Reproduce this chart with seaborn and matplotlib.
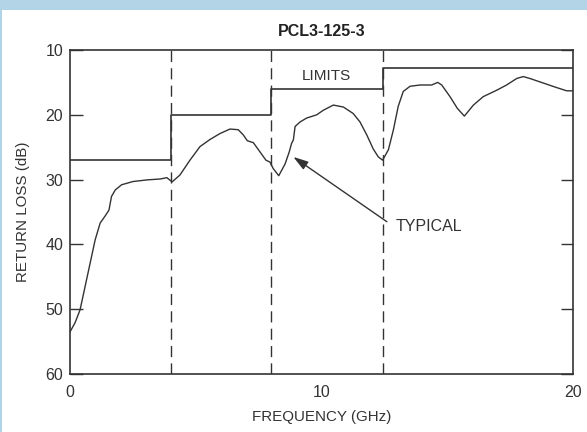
import matplotlib
matplotlib.use("Agg")
import matplotlib.pyplot as plt
from matplotlib.patches import Rectangle
import numpy as np
import pandas as pd
import seaborn as sns

# Measured return loss of a typical unit (GHz, dB)
freq_ghz = [0.0, 0.2, 0.4, 0.6, 0.8, 1.0, 1.2, 1.4, 1.55, 1.65, 1.8, 2.05, 2.5,
            3.05, 3.6, 3.85, 4.06, 4.37, 4.77, 5.17, 5.57, 5.96, 6.36, 6.69,
            6.89, 7.05, 7.29, 7.55, 7.79, 7.95, 8.08, 8.30, 8.55, 8.72, 8.81,
            8.88, 8.95, 9.15, 9.41, 9.81, 10.07, 10.47, 10.87, 11.26, 11.53,
            11.8, 12.06, 12.26, 12.43, 12.66, 12.86, 13.05, 13.25, 13.52,
            13.92, 14.38, 14.62, 14.78, 15.11, 15.4, 15.68, 16.04, 16.43,
            16.97, 17.36, 17.76, 18.02, 18.29, 18.82, 19.35, 19.75, 20.0]
typical_db = [53.5, 52.1, 50.1, 46.5, 42.9, 39.3, 36.7, 35.6, 34.7, 32.6, 31.6,
              30.8, 30.3, 30.05, 29.9, 29.7, 30.35, 29.3, 27.0, 24.9, 23.8,
              22.9, 22.2, 22.3, 23.1, 24.0, 24.3, 25.7, 27.0, 27.3, 28.3, 29.4,
              27.6, 25.7, 24.4, 23.9, 21.8, 21.1, 20.5, 20.0, 19.3, 18.5, 18.8,
              19.8, 21.1, 23.1, 25.3, 26.5, 27.0, 25.4, 22.3, 18.7, 16.4, 15.6,
              15.4, 15.4, 15.0, 15.4, 17.2, 19.0, 20.2, 18.5, 17.2, 16.2, 15.4,
              14.4, 14.1, 14.4, 15.1, 15.8, 16.3, 16.3]

# Specification limit bands
band_edges_ghz = [0, 4, 8, 12.45, 20]
limit_db = [27, 20, 16, 12.8]

x_ticks = [0, 2, 4, 6, 8, 10, 12, 14, 16, 18, 20]
x_tick_labels = ["0", "", "", "", "", "10", "", "", "", "", "20"]
y_ticks = [10, 20, 30, 40, 50, 60]

title = "PCL3-125-3"

sns.set_theme(style="white")
plt.rcParams["font.family"] = ["Liberation Sans", "DejaVu Sans"]

ink = "#333333"
fig = plt.figure(figsize=(5.87, 4.32), dpi=100)
fig.patch.set_facecolor("white")
# light-blue frame strips
fig.patches.append(Rectangle((0, 1 - 10 / 432), 1, 10 / 432, transform=fig.transFigure,
                             facecolor="#b3d4e6", edgecolor="none", zorder=0))
fig.patches.append(Rectangle((0, 0), 2 / 587, 1, transform=fig.transFigure,
                             facecolor="#b3d4e6", edgecolor="none", zorder=0))

ax = fig.add_axes([70 / 587, 1 - 374 / 432, 503 / 587, 324 / 432])

typ = pd.DataFrame({"freq": freq_ghz, "loss": typical_db})
lim = pd.DataFrame({"freq": band_edges_ghz, "loss": limit_db + [limit_db[-1]]})

sns.lineplot(data=typ, x="freq", y="loss", ax=ax, color=ink, lw=1.0,
             sort=False, estimator=None)
sns.lineplot(data=lim, x="freq", y="loss", ax=ax, color=ink, lw=1.2,
             drawstyle="steps-post", sort=False, estimator=None)

for xb in band_edges_ghz[1:-1]:
    ax.axvline(xb, color=ink, lw=1.0, dashes=(8, 4.5))

ax.set_xlim(0, 20)
ax.set_ylim(60, 10)
ax.set_xticks(x_ticks)
ax.set_xticklabels(x_tick_labels)
ax.set_yticks(y_ticks)
ax.tick_params(axis="x", direction="in", length=10, width=1.0, color=ink,
               labelcolor=ink, labelsize=11.5, pad=8)
ax.tick_params(axis="y", direction="in", length=9, width=1.0, color=ink,
               labelcolor=ink, labelsize=11.5, pad=5, right=True, left=True)
for s in ax.spines.values():
    s.set_color(ink)
    s.set_linewidth(1.2)

ax.set_xlabel("FREQUENCY (GHz)", fontsize=10.9, color=ink)
ax.xaxis.set_label_coords(0.5, -0.11)
ax.set_ylabel("RETURN LOSS (dB)", fontsize=10.9, color=ink)
ax.yaxis.set_label_coords(-0.08, 0.5)
ax.text(0.5, 1.057, title, transform=ax.transAxes, ha="center", va="center",
        fontsize=11.5, fontweight="bold", color="#222222")

ax.text(10.2, 14.0, "LIMITS", ha="center", va="center", fontsize=11, color=ink)
ax.text(12.95, 37.3, "TYPICAL", ha="left", va="center", fontsize=11.5, color=ink)
ax.annotate("", xy=(8.88, 26.5), xytext=(12.6, 36.5),
            arrowprops=dict(arrowstyle="-|>,head_length=0.9,head_width=0.28",
                            color=ink, lw=1.0, shrinkA=0, shrinkB=0,
                            mutation_scale=10))

fig.savefig("out.png", dpi=100, facecolor=fig.get_facecolor())
